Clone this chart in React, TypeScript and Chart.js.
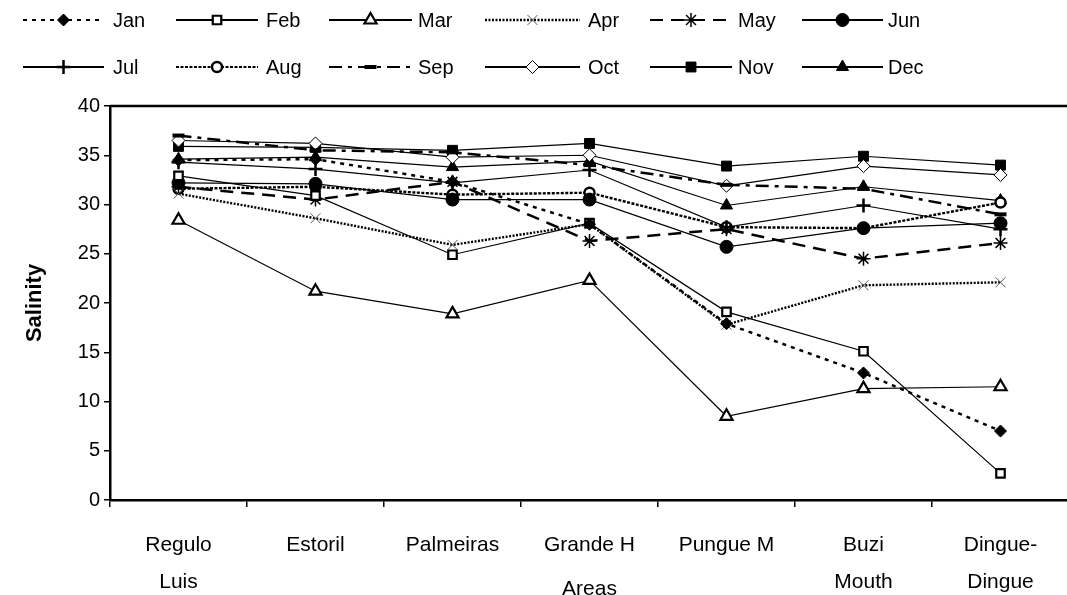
import React, { useEffect, useRef } from 'react';
import { Chart, registerables } from 'chart.js';
import { drawPoint } from 'chart.js/helpers';

Chart.register(...registerables);

// ---------- data ----------
const categories: string[][] = [
  ['Regulo', 'Luis'],
  ['Estoril'],
  ['Palmeiras'],
  ['Grande H'],
  ['Pungue M'],
  ['Buzi', 'Mouth'],
  ['Dingue-', 'Dingue'],
];

const seriesNames = ['Jan', 'Feb', 'Mar', 'Apr', 'May', 'Jun', 'Jul', 'Aug', 'Sep', 'Oct', 'Nov', 'Dec'];

const jan = [34.5, 34.6, 32.3, 28.0, 17.9, 12.9, 7.0];
const feb = [32.9, 30.9, 24.9, 28.1, 19.1, 15.1, 2.7];
const mar = [28.4, 21.2, 18.9, 22.3, 8.5, 11.3, 11.5];
const apr = [31.1, 28.6, 25.9, 28.0, 17.8, 21.8, 22.1];
const may = [31.8, 30.5, 32.3, 26.3, 27.5, 24.5, 26.1];
const jun = [32.2, 32.1, 30.5, 30.5, 25.7, 27.6, 28.1];
const jul = [34.3, 33.6, 32.2, 33.5, 27.7, 29.9, 27.5];
const aug = [31.6, 31.8, 31.0, 31.2, 27.7, 27.6, 30.2];
const sep = [37.0, 35.5, 35.3, 34.0, 32.0, 31.6, 29.0];
const oct = [36.5, 36.2, 34.8, 35.0, 31.9, 33.9, 33.0];
const nov = [35.9, 35.8, 35.5, 36.2, 33.9, 34.9, 34.0];
const dec = [34.6, 34.8, 33.8, 34.4, 29.9, 31.8, 30.4];

const seriesValues = [jan, feb, mar, apr, may, jun, jul, aug, sep, oct, nov, dec];

const yMin = 0;
const yMax = 40;
const yStep = 5;

// ---------- styles ----------
type Style = {
  dash: number[];
  width: number;
  legendWidth: number;
  point: string;
  radius: number;
  fill: string;
  stroke: string;
  pw: number;
};

const styles: Style[] = [
  { dash: [4, 5], width: 2.5, legendWidth: 2, point: 'rectRot', radius: 6, fill: '#000', stroke: '#000', pw: 1 },
  { dash: [], width: 1.2, legendWidth: 2.2, point: 'rect', radius: 6, fill: '#fff', stroke: '#000', pw: 2.2 },
  { dash: [], width: 1.2, legendWidth: 2.2, point: 'triangle', radius: 7, fill: '#fff', stroke: '#000', pw: 2.2 },
  { dash: [2, 1.5], width: 2.4, legendWidth: 2.4, point: 'crossRot', radius: 7, fill: '#fff', stroke: '#555', pw: 1 },
  { dash: [13, 8], width: 2.5, legendWidth: 2, point: 'star', radius: 7, fill: '#fff', stroke: '#000', pw: 1.5 },
  { dash: [], width: 1.2, legendWidth: 2.2, point: 'circle', radius: 6.5, fill: '#000', stroke: '#000', pw: 1 },
  { dash: [], width: 1.2, legendWidth: 2.2, point: 'cross', radius: 7, fill: '#000', stroke: '#000', pw: 2.5 },
  { dash: [3, 1.5], width: 2.4, legendWidth: 2.2, point: 'circle', radius: 5, fill: '#fff', stroke: '#000', pw: 2.5 },
  { dash: [13, 6, 4, 6], width: 2.5, legendWidth: 2, point: 'line', radius: 6, fill: '#000', stroke: '#000', pw: 4 },
  { dash: [], width: 1.2, legendWidth: 2.2, point: 'rectRot', radius: 6.5, fill: '#fff', stroke: '#000', pw: 1 },
  { dash: [], width: 1.2, legendWidth: 2.2, point: 'rect', radius: 7, fill: '#000', stroke: '#000', pw: 1 },
  { dash: [], width: 1.2, legendWidth: 2.2, point: 'triangle', radius: 7, fill: '#000', stroke: '#000', pw: 1 },
];

const FONT = '"Liberation Sans", Arial, Helvetica, sans-serif';

const legendRowY = [20, 67];
const legendLineStart = [23, 176, 329, 485, 650, 802];
const legendLineEnd = [104, 258, 412, 580, 732, 883];
const legendTextX = [113, 266, 418, 588, 738, 888];

const excelLegend = {
  id: 'excelLegend',
  afterDraw(chart: any) {
    const ctx: CanvasRenderingContext2D = chart.ctx;
    ctx.save();
    // top frame line of plot area
    const { left, right, top } = chart.chartArea;
    ctx.beginPath();
    ctx.setLineDash([]);
    ctx.strokeStyle = '#000';
    ctx.lineWidth = 2.5;
    ctx.moveTo(left, top);
    ctx.lineTo(right, top);
    ctx.stroke();

    chart.data.datasets.forEach((ds: any, i: number) => {
      const st = styles[i];
      const row = Math.floor(i / 6);
      const col = i % 6;
      const y = legendRowY[row];
      const x0 = legendLineStart[col];
      const x1 = legendLineEnd[col];
      ctx.beginPath();
      ctx.setLineDash(st.dash);
      ctx.lineWidth = st.legendWidth;
      ctx.strokeStyle = '#000';
      ctx.moveTo(x0, y);
      ctx.lineTo(x1, y);
      ctx.stroke();
      ctx.setLineDash([]);
      ctx.fillStyle = st.fill;
      ctx.strokeStyle = st.stroke;
      ctx.lineWidth = st.pw;
      drawPoint(ctx, { pointStyle: st.point as any, radius: st.radius, borderWidth: st.pw, rotation: 0 } as any, (x0 + x1) / 2, y);
      ctx.fillStyle = '#000';
      ctx.font = `20px ${FONT}`;
      ctx.textBaseline = 'middle';
      ctx.textAlign = 'left';
      ctx.fillText(ds.label, legendTextX[col], y + 1);
    });
    ctx.restore();
  },
};

export default function App() {
  const canvasRef = useRef<HTMLCanvasElement | null>(null);

  useEffect(() => {
    document.body.style.margin = '0';
    document.body.style.overflow = 'hidden';
    const canvas = canvasRef.current;
    if (!canvas) return;

    const datasets = seriesNames.map((name, i) => {
      const st = styles[i];
      return {
        label: name,
        data: seriesValues[i],
        borderColor: '#000',
        borderWidth: st.width,
        borderDash: st.dash,
        backgroundColor: st.fill,
        pointStyle: st.point,
        pointRadius: st.radius,
        pointHoverRadius: st.radius,
        pointBackgroundColor: st.fill,
        pointBorderColor: st.stroke,
        pointBorderWidth: st.pw,
        tension: 0,
        fill: false,
      };
    });

    const chart = new Chart(canvas, {
      type: 'line',
      data: { labels: categories as any, datasets: datasets as any },
      options: {
        animation: false,
        responsive: true,
        maintainAspectRatio: false,
        devicePixelRatio: 1,
        layout: { autoPadding: false, padding: { top: 106, left: 0, right: 0, bottom: 0 } },
        plugins: {
          legend: { display: false },
          tooltip: { enabled: false },
          title: { display: false },
        },
        font: { family: FONT },
        scales: {
          x: {
            type: 'category',
            offset: true,
            grid: {
              offset: true,
              drawOnChartArea: false,
              drawTicks: true,
              tickLength: 7,
              color: '#000',
              lineWidth: 1.5,
            },
            border: { display: true, color: '#000', width: 2.5 },
            ticks: {
              autoSkip: false,
              maxRotation: 0,
              minRotation: 0,
              padding: 20,
              color: '#000',
              font: { family: FONT, size: 21, lineHeight: 1.76 },
            },
            title: {
              display: true,
              text: 'Areas',
              color: '#000',
              font: { family: FONT, size: 21, lineHeight: 0.8 },
              padding: { top: 0, bottom: -3 },
            },
            afterFit: (s: any) => {
              s.height = 95;
              s.paddingLeft = 0;
              s.paddingRight = 0;
            },
          },
          y: {
            min: yMin,
            max: yMax,
            ticks: {
              stepSize: yStep,
              padding: 4,
              color: '#000',
              font: { family: FONT, size: 20 },
            },
            grid: {
              drawOnChartArea: false,
              drawTicks: true,
              tickLength: 6,
              color: '#000',
              lineWidth: 1.5,
            },
            border: { display: true, color: '#000', width: 2.5 },
            title: {
              display: true,
              text: 'Salinity',
              color: '#000',
              font: { family: FONT, size: 22, weight: 'bold', lineHeight: 1.2 },
              padding: { top: 22, bottom: 0 },
            },
            afterFit: (s: any) => {
              s.width = 110;
            },
          },
        },
      } as any,
      plugins: [excelLegend],
    });

    return () => {
      chart.destroy();
    };
  }, []);

  return (
    <div style={{ position: 'relative', width: 1069, height: 595 }}>
      <canvas ref={canvasRef} />
    </div>
  );
}
